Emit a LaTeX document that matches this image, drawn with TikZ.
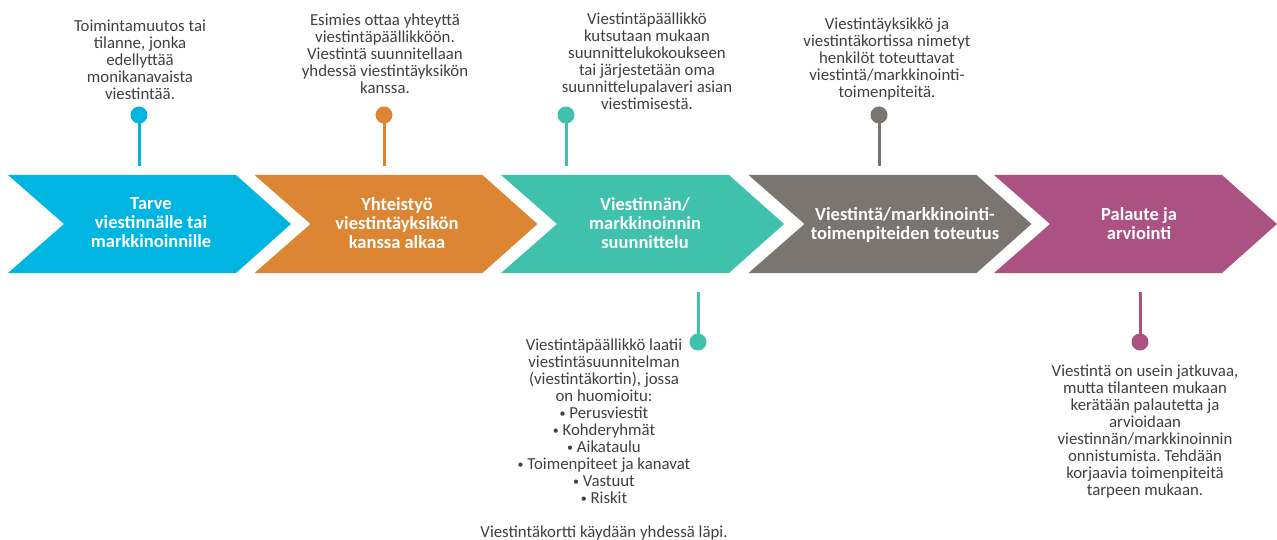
\documentclass[tikz,border=0pt]{standalone}
\usepackage{fontspec}
\setmainfont{Carlito}
\frenchspacing
\definecolor{cblue}{HTML}{00B5E2}
\definecolor{corange}{HTML}{DC8634}
\definecolor{cteal}{HTML}{40C1AC}
\definecolor{cgray}{HTML}{7A7571}
\definecolor{cpurple}{HTML}{AB5283}
\definecolor{txtgray}{HTML}{404040}
\newcommand\smbul{\raisebox{1.2pt}{\fontsize{12}{12}\selectfont •}}
\begin{document}
\begin{tikzpicture}[x=1pt,y=-1pt,
  chevtext/.style={align=center,text=white,inner sep=0pt,font=\fontsize{18.5}{19}\selectfont\bfseries},
  desc/.style={align=center,text=txtgray,inner sep=0pt,font=\fontsize{16.8}{17}\selectfont},
  dotstyle/.style={circle,fill=#1,minimum size=17pt,inner sep=0pt},
  stem/.style={draw=#1,line width=3pt}]
\useasboundingbox (0,0) rectangle (1277,540);
% chevrons
\fill[cblue] (8,175) -- ++(228,0) -- ++(55,49) -- ++(-55,49) -- ++(-228,0) -- ++(56,-49) -- cycle;
\fill[corange] (254.5,175) -- ++(228,0) -- ++(55,49) -- ++(-55,49) -- ++(-228,0) -- ++(56,-49) -- cycle;
\fill[cteal] (501,175) -- ++(228,0) -- ++(55,49) -- ++(-55,49) -- ++(-228,0) -- ++(56,-49) -- cycle;
\fill[cgray] (748.5,175) -- ++(228,0) -- ++(55,49) -- ++(-55,49) -- ++(-228,0) -- ++(56,-49) -- cycle;
\fill[cpurple] (994,175) -- ++(228,0) -- ++(55,49) -- ++(-55,49) -- ++(-228,0) -- ++(56,-49) -- cycle;
% chevron labels
\node[chevtext] (c1) at (151,223) {Tarve\\viestinnälle tai\\markkinoinnille};
\node[chevtext] (c2) at (397,223) {Yhteistyö\\viestintäyksikön\\kanssa alkaa};
\node[chevtext] (c3) at (645,223) {Viestinnän/\\markkinoinnin\\suunnittelu};
\node[chevtext] (c4) at (905,225) {Viestintä/markkinointi-\\toimenpiteiden toteutus};
\node[chevtext] (c5) at (1139,224) {Palaute ja\\arviointi};
% top pins
\node[dotstyle=cblue] (d1) at (139,115) {};
\coordinate (e1) at (139,166);
\draw[stem=cblue] (d1.center) -- (e1);
\node[dotstyle=corange] (d2) at (384,115) {};
\coordinate (e2) at (384,166);
\draw[stem=corange] (d2.center) -- (e2);
\node[dotstyle=cteal] (d3) at (566,115) {};
\coordinate (e3) at (566,166);
\draw[stem=cteal] (d3.center) -- (e3);
\node[dotstyle=cgray] (d4) at (879,115) {};
\coordinate (e4) at (879,166);
\draw[stem=cgray] (d4.center) -- (e4);
% bottom pins
\node[dotstyle=cteal] (d5) at (698,342) {};
\coordinate (e5) at (698,292);
\draw[stem=cteal] (d5.center) -- (e5);
\node[dotstyle=cpurple] (d6) at (1140,342) {};
\coordinate (e6) at (1140,292);
\draw[stem=cpurple] (d6.center) -- (e6);
% texts
\node[desc] (t1) at (140,59.5) {Toimintamuutos tai\\tilanne, jonka\\edellyttää\\monikanavaista\\viestintää.};
\node[desc] (t2) at (385,53.5) {Esimies ottaa yhteyttä\\viestintäpäällikköön.\\Viestintä suunnitellaan\\yhdessä viestintäyksikön\\kanssa.};
\node[desc] (t3) at (647,61.5) {Viestintäpäällikkö\\kutsutaan mukaan\\suunnittelukokoukseen\\tai järjestetään oma\\suunnittelupalaveri asian\\viestimisestä.};
\node[desc] (t4) at (887,59) {Viestintäyksikkö ja\\viestintäkortissa nimetyt\\henkilöt toteuttavat\\viestintä/markkinointi-\\toimenpiteitä.};
\node[desc] (t5) at (604,439.5) {Viestintäpäällikkö laatii\\viestintäsuunnitelman\\(viestintäkortin), jossa\\on huomioitu:\\\smbul{} Perusviestit\\\smbul{} Kohderyhmät\\\smbul{} Aikataulu\\\smbul{} Toimenpiteet ja kanavat\\\smbul{} Vastuut\\\smbul{} Riskit\\[17pt]Viestintäkortti käydään yhdessä läpi.};
\node[desc] (t6) at (1145,432) {Viestintä on usein jatkuvaa,\\mutta tilanteen mukaan\\kerätään palautetta ja\\arvioidaan\\viestinnän/markkinoinnin\\onnistumista. Tehdään\\korjaavia toimenpiteitä\\tarpeen mukaan.};
\end{tikzpicture}
\end{document}
